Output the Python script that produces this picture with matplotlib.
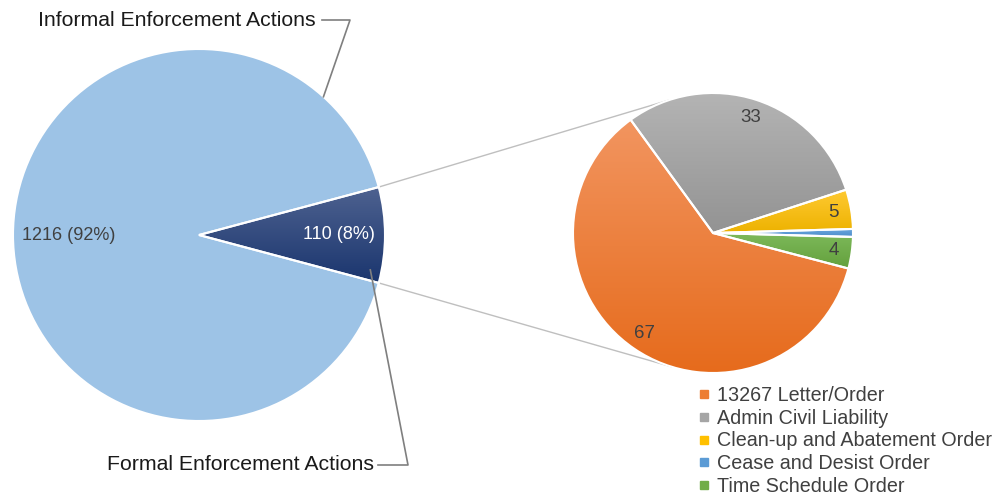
import numpy as np
import matplotlib.pyplot as plt
from matplotlib.lines import Line2D
from matplotlib.colors import LinearSegmentedColormap

plt.rcParams['font.family'] = ['Liberation Sans', 'DejaVu Sans']

# data
main_labels = ['Informal Enforcement Actions', 'Formal Enforcement Actions']
main_values = [1216, 110]
sub_labels = ['13267 Letter/Order', 'Admin Civil Liability', 'Clean-up and Abatement Order',
              'Cease and Desist Order', 'Time Schedule Order']
sub_values = [67, 33, 5, 1, 4]

main_colors = ['#9DC3E6', '#203F78']
sub_colors = ['#ED7D31', '#A5A5A5', '#FFC000', '#5B9BD5', '#70AD47']
# (top, bottom) gradient colours, None = flat
main_grad = [None, ('#4E6290', '#1A356E')]
sub_grad = [('#F29560', '#E66B1C'), ('#B4B4B4', '#939393'), ('#FFCA33', '#EDB200'),
            ('#6AA6DD', '#4C8CCB'), ('#7DB95A', '#63A03C')]

W, H = 995, 496
fig = plt.figure(figsize=(W / 100, H / 100), dpi=100)
ax = fig.add_axes([0, 0, 1, 1])

c1, r1 = (199, 261), 186
c2, r2 = (713, 263), 140
total = sum(main_values)
start1 = 180 * main_values[1] / total
start2 = -14.7  # orange slice ends just below 3 o'clock


def add_gradients(wedges, grads, center, r):
    for w, g in zip(wedges, grads):
        if g is None:
            continue
        t = np.deg2rad(np.linspace(w.theta1, w.theta2, 100))
        ys = np.concatenate([[center[1]], center[1] + r * np.sin(t)])
        cmap = LinearSegmentedColormap.from_list('g', [g[1], g[0]])
        grad = np.linspace(0, 1, 256).reshape(-1, 1)
        im = ax.imshow(grad, cmap=cmap, origin='lower', aspect='auto',
                       extent=(center[0] - r, center[0] + r, ys.min(), ys.max()),
                       zorder=2)
        im.set_clip_path(w)


w1, _ = ax.pie(main_values, colors=main_colors, startangle=start1, center=c1, radius=r1,
               wedgeprops=dict(linewidth=0), frame=True)
add_gradients(w1, main_grad, c1, r1)
ax.pie(main_values, colors=['none'] * 2, startangle=start1, center=c1, radius=r1,
       wedgeprops=dict(linewidth=1.5, edgecolor='white', zorder=3), frame=True)

w2, _ = ax.pie(sub_values, colors=sub_colors, startangle=start2, counterclock=False,
               center=c2, radius=r2, wedgeprops=dict(linewidth=0), frame=True)
add_gradients(w2, sub_grad, c2, r2)
ax.pie(sub_values, colors=['none'] * 5, startangle=start2, counterclock=False,
       center=c2, radius=r2, wedgeprops=dict(linewidth=1.5, edgecolor='white', zorder=3),
       frame=True)
ax.set_xlim(0, W)
ax.set_ylim(0, H)
ax.set_aspect('equal')
ax.axis('off')


def polar(center, r, deg):
    a = np.deg2rad(deg)
    return center[0] + r * np.cos(a), center[1] + r * np.sin(a)


# data labels on main pie
for w, v, col, d in zip(w1, main_values, ['#404040', 'white'], [0.70, 0.75]):
    mid = (w.theta1 + w.theta2) / 2
    x, y = polar(c1, r1 * d, mid)
    ax.text(x, y, f'{v} ({v / total:.0%})', ha='center', va='center', fontsize=13,
            color=col, zorder=5)

# data labels on sub pie (smallest slice left unlabeled)
for w, v in zip(w2, sub_values):
    if v < 2:
        continue
    mid = (w.theta1 + w.theta2) / 2
    x, y = polar(c2, r2 * 0.87, mid)
    ax.text(x, y, str(v), ha='center', va='center', fontsize=13.5, color='#404040', zorder=5)

# connector lines between pies
p_top = polar(c1, r1, w1[1].theta2)
p_bot = polar(c1, r1, w1[1].theta1)
q_top = polar(c2, r2, 108.5)
q_bot = polar(c2, r2, -107)
ax.plot([p_top[0], q_top[0]], [p_top[1], q_top[1]], color='#BFBFBF', lw=1, zorder=1)
ax.plot([p_bot[0], q_bot[0]], [p_bot[1], q_bot[1]], color='#BFBFBF', lw=1, zorder=1)

# category callouts
pi = polar(c1, r1, 48)
ax.plot([322, 350, pi[0]], [476, 476, pi[1]], color='#7F7F7F', lw=1.2, zorder=4)
ax.text(316, 476, main_labels[0], ha='right', va='center', fontsize=15.3, color='#1A1A1A')
pf = polar(c1, r1 * 0.94, -11.5)
ax.plot([378, 408, pf[0]], [31, 31, pf[1]], color='#7F7F7F', lw=1.2, zorder=4)
ax.text(374, 31, main_labels[1], ha='right', va='center', fontsize=15.3, color='#1A1A1A')

handles = [Line2D([], [], marker='s', ls='none', markersize=6, color=c) for c in sub_colors]
ax.legend(handles, sub_labels, loc='upper left', bbox_to_anchor=(699 / W, 1 - 386 / H),
          frameon=False, fontsize=14.2, labelcolor='#404040', handlelength=0.5,
          handletextpad=0.4, labelspacing=0.19, borderaxespad=0, borderpad=0)

fig.savefig('out.png', dpi=100)
